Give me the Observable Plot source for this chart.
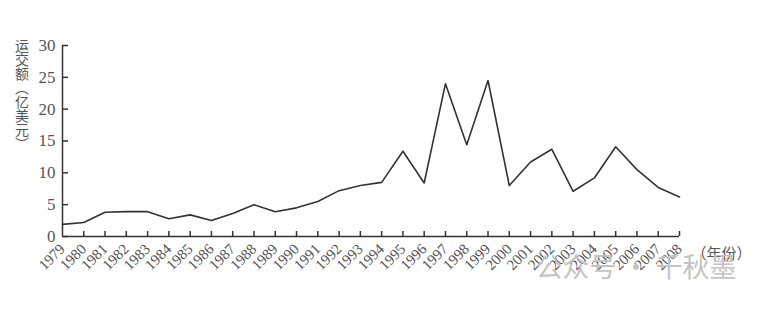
<!DOCTYPE html>
<html>
<head>
<meta charset="utf-8">
<script src="https://cdn.jsdelivr.net/npm/d3@7"></script>
<script src="https://cdn.jsdelivr.net/npm/@observablehq/plot@0.6"></script>
<style>
  html, body { margin: 0; padding: 0; background: #fff; }
  #wrap { position: relative; width: 758px; height: 315px; }
  #ylabel { position: absolute; left: 15px; top: 39px; writing-mode: vertical-rl; font-family: 'Noto Sans CJK SC', sans-serif; font-size: 14px; line-height: 14px; color: #555; letter-spacing: 0; }
</style>
</head>
<body>
<div id="wrap"><div id="chart"></div><div id="ylabel"></div></div>
<script>
const years = [1979,1980,1981,1982,1983,1984,1985,1986,1987,1988,1989,1990,1991,1992,1993,1994,1995,1996,1997,1998,1999,2000,2001,2002,2003,2004,2005,2006,2007,2008];
const values = [1.9,2.2,3.8,3.9,3.9,2.8,3.4,2.5,3.6,5.0,3.9,4.5,5.5,7.2,8.0,8.5,13.4,8.4,24.0,14.4,24.5,8.0,11.7,13.7,7.1,9.2,14.1,10.5,7.7,6.2];
const yTicks = [0,5,10,15,20,25,30];
const yLabel = "运交额（亿美元）";
const xLabel = "（年份）";
const watermark = "公众号 · 千秋墨";

const data = years.map((y, i) => ({year: y, value: values[i]}));

const chart = Plot.plot({
  width: 758,
  height: 315,
  marginLeft: 62,
  marginRight: 79,
  marginTop: 45,
  marginBottom: 79,
  style: {fontFamily: "'Liberation Serif', serif", color: "#333", background: "#fff"},
  x: {type: "linear", domain: [1979, 2008], label: null},
  y: {domain: [0, 30], label: null},
  marks: [
    Plot.axisY(yTicks, {tickSize: -6, tickPadding: 13, fontSize: 17, fill: "#555", stroke: "#333", strokeWidth: 1.5, label: null}),
    Plot.axisX(years.slice(1), {tickSize: -5, text: null, stroke: "#333", strokeWidth: 1.5, label: null}),
    Plot.axisX(years, {tickSize: 0, tickPadding: 10, tickRotate: -45, fontSize: 15, fill: "#555", tickFormat: d => String(d), label: null}),
    Plot.ruleY([0], {stroke: "#333", strokeWidth: 1.5}),
    Plot.ruleX([1979], {stroke: "#333", strokeWidth: 1.5}),
    Plot.line(data, {x: "year", y: "value", stroke: "#333", strokeWidth: 1.6}),
    Plot.text([xLabel], {frameAnchor: "bottom-right", dx: 12, dy: 22, textAnchor: "start", fontSize: 15, fill: "#555", fontFamily: "'Noto Sans CJK SC', sans-serif"}),
    Plot.text([watermark], {frameAnchor: "bottom-right", dx: 57, dy: 40, textAnchor: "end", fontSize: 27, fill: "#c4c4c4", fontFamily: "'Noto Sans CJK SC', sans-serif"})
  ]
});
document.getElementById("chart").appendChild(chart);
document.getElementById("ylabel").textContent = yLabel;
</script>
</body>
</html>
